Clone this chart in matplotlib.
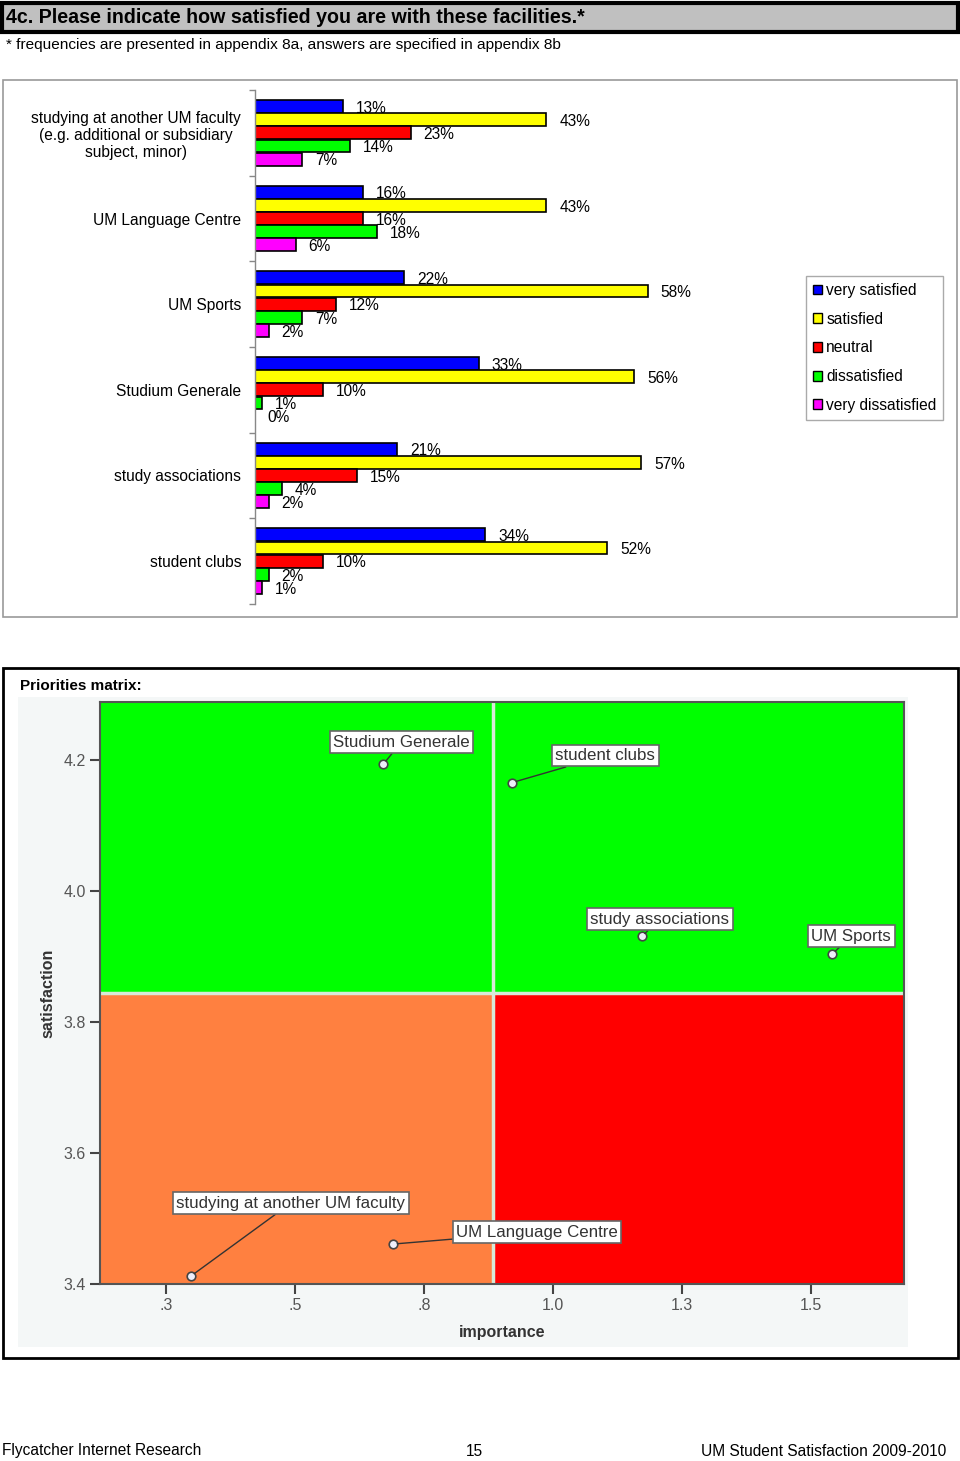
import matplotlib.pyplot as plt
import matplotlib.patches as mpatches
import numpy as np

plt.rcParams['font.family'] = ['Liberation Sans', 'DejaVu Sans']

# Dati - soddisfazione strutture (%)
categorie = ["studying at another UM faculty\n(e.g. additional or subsidiary\nsubject, minor)",
             "UM Language Centre", "UM Sports", "Studium Generale",
             "study associations", "student clubs"]
serie_nomi = ["very satisfied", "satisfied", "neutral", "dissatisfied", "very dissatisfied"]
very_satisfied = [13, 16, 22, 33, 21, 34]
satisfied = [43, 43, 58, 56, 57, 52]
neutral = [23, 16, 12, 10, 15, 10]
dissatisfied = [14, 18, 7, 1, 4, 2]
very_dissatisfied = [7, 6, 2, 0, 2, 1]

# Dati - matrice delle priorita
punti_nomi = ["Studium Generale", "student clubs", "study associations", "UM Sports",
              "studying at another UM faculty", "UM Language Centre"]
importance = [0.671, 0.921, 1.172, 1.541, 0.298, 0.690]
satisfaction = [4.194, 4.166, 3.931, 3.904, 3.412, 3.461]
imp_split = 0.884
sat_split = 3.844
x_ticks = [0.25, 0.5, 0.75, 1.0, 1.25, 1.5]
x_tick_labels = [".3", ".5", ".8", "1.0", "1.3", "1.5"]
y_ticks = [3.4, 3.6, 3.8, 4.0, 4.2]
y_tick_labels = ["3.4", "3.6", "3.8", "4.0", "4.2"]

W, H = 960, 1461
colori = ["#0000ff", "#ffff00", "#ff0000", "#00ff00", "#ff00ff"]


def box(x0, y0, x1, y1):
    return [x0 / W, 1 - y1 / H, (x1 - x0) / W, (y1 - y0) / H]


fig = plt.figure(figsize=(W / 100, H / 100), dpi=100)

# sfondo / cornici
bg = fig.add_axes([0, 0, 1, 1], zorder=-5)
bg.set_xlim(0, W)
bg.set_ylim(H, 0)
bg.axis("off")
bg.add_patch(mpatches.Rectangle((1.5, 3), 956, 29, fc="#c0c0c0", ec="black", lw=3))
bg.text(6, 17.5, "4c. Please indicate how satisfied you are with these facilities.*",
        fontsize=14.1, fontweight="bold", va="center", ha="left")
bg.text(6, 45, "* frequencies are presented in appendix 8a, answers are specified in appendix 8b",
        fontsize=11.1, va="center", ha="left")
bg.add_patch(mpatches.Rectangle((3, 80), 954, 537, fc="white", ec="#9a9a9a", lw=1.2))
bg.add_patch(mpatches.Rectangle((3, 668), 955, 690, fc="white", ec="black", lw=2))
bg.add_patch(mpatches.Rectangle((18, 697), 890, 650, fc="#f4f7f7", ec="none"))
bg.text(20, 686, "Priorities matrix:", fontsize=11, fontweight="bold", va="center")
bg.text(2, 1451, "Flycatcher Internet Research", fontsize=11.2, va="center")
bg.text(474, 1451, "15", fontsize=11.2, va="center", ha="center")
bg.text(946, 1451, "UM Student Satisfaction 2009-2010", fontsize=11.2, va="center", ha="right")

# 1) Barre orizzontali
ax = fig.add_axes(box(255, 90, 797, 604))
ax.patch.set_alpha(0)
valori = [very_satisfied, satisfied, neutral, dissatisfied, very_dissatisfied]
y = np.arange(len(categorie))
passo = 0.154
for k, (vals, col, nome) in enumerate(zip(valori, colori, serie_nomi)):
    yy = y + (k - 2) * passo
    ax.barh(yy, vals, height=0.15, color=col, edgecolor="black", linewidth=1.2, label=nome)
    for yi, v in zip(yy, vals):
        ax.text(v + 1.9, yi + 0.02, f"{v}%", va="center", ha="left", fontsize=11.2)
ax.set_xlim(0, 80)
ax.set_ylim(5.5, -0.5)
ax.set_yticks(y)
ax.set_yticklabels(categorie, fontsize=11.2)
for lab in ax.get_yticklabels():
    lab.set_multialignment("center")
ax.tick_params(axis="y", which="major", length=0, pad=10)
ax.set_yticks(np.arange(-0.5, 6, 1), minor=True)
ax.tick_params(axis="y", which="minor", length=4, color="#888888", width=1)
ax.set_xticks([])
for s in ["top", "right", "bottom"]:
    ax.spines[s].set_visible(False)
ax.spines["left"].set_color("#888888")
ax.spines["left"].set_linewidth(1)

handles = [mpatches.Patch(facecolor=c, edgecolor="black", linewidth=1) for c in colori]
leg = fig.legend(handles, serie_nomi, loc="upper left",
                 bbox_to_anchor=(806 / W, 1 - 276 / H), bbox_transform=fig.transFigure,
                 fontsize=11.2, handlelength=0.6, handleheight=0.6, handletextpad=0.25,
                 labelspacing=0.88, borderpad=0.45, borderaxespad=0, fancybox=False,
                 edgecolor="#aaaaaa", framealpha=1)
leg.get_frame().set_linewidth(1)

# 2) Matrice delle priorita
mx = fig.add_axes(box(100, 702, 904, 1284))
mx.set_xlim(0.122, 1.68)
mx.set_ylim(3.4, 4.289)
mx.axvspan(0.122, 1.68, color="#00ff00", lw=0)
mx.fill_between([0.122, imp_split], 3.4, sat_split, color="#ff8040", lw=0)
mx.fill_between([imp_split, 1.68], 3.4, sat_split, color="#ff0000", lw=0)
mx.axvline(imp_split, color="#d8ead8", lw=2.5)
mx.axhline(sat_split, color="#d8ead8", lw=2.5)

mx.scatter(importance, satisfaction, s=38, facecolor="#eeeefa", edgecolor="#444444",
           linewidth=1.2, zorder=5)
offsets = {"Studium Generale": (18, 22), "student clubs": (93, 27),
           "study associations": (18, 17), "UM Sports": (19, 18),
           "studying at another UM faculty": (100, 73), "UM Language Centre": (144, 12)}
for nome, xi, yi in zip(punti_nomi, importance, satisfaction):
    mx.annotate(nome, xy=(xi, yi), xytext=offsets[nome], textcoords="offset pixels",
                ha="center", va="center", fontsize=12.2, color="#333333", zorder=6,
                bbox=dict(boxstyle="square,pad=0.2", fc="white", ec="#666666", lw=1.2),
                arrowprops=dict(arrowstyle="-", color="#333333", lw=1, shrinkA=0, shrinkB=3))

mx.set_xticks(x_ticks)
mx.set_xticklabels(x_tick_labels)
mx.set_yticks(y_ticks)
mx.set_yticklabels(y_tick_labels)
mx.tick_params(axis="both", length=7, width=1.5, color="#444444", labelcolor="#555555",
               labelsize=11.5, pad=3)
for s in mx.spines.values():
    s.set_color("#555555")
    s.set_linewidth(1.5)
mx.set_xlabel("importance", fontsize=11.5, fontweight="bold", color="#333333", labelpad=9)
mx.set_ylabel("satisfaction", fontsize=11.5, fontweight="bold", color="#333333", labelpad=6)

plt.savefig("out.png", dpi=100)
